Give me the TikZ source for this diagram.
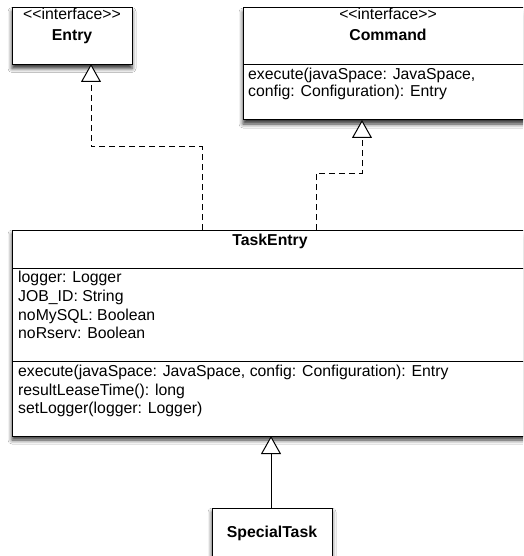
\documentclass[tikz,border=0pt]{standalone}
\usepackage{fontspec}
\setmainfont{Liberation Sans}
\usetikzlibrary{arrows.meta,shadows.blur}
\tikzset{
  umlbox/.style={draw=black, line width=1pt, fill=white, inner sep=0pt,
    blur shadow={shadow xshift=0pt, shadow yshift=-4pt, shadow blur radius=4pt, shadow opacity=80}},
  sep/.style={line width=0.8pt},
  txt/.style={inner sep=0pt, anchor=base west, font=\fontsize{15.8}{18}\selectfont},
  ctxt/.style={inner sep=0pt, anchor=base, font=\fontsize{15.8}{18}\selectfont},
  btxt/.style={inner sep=0pt, anchor=base, font=\fontsize{15.8}{18}\selectfont\bfseries},
  realize/.style={line width=1pt, dash pattern=on 6pt off 4pt,
    -{Triangle[open, length=18pt, width=20pt, line width=1pt, fill=white]}},
  generalize/.style={line width=1pt,
    -{Triangle[open, length=18pt, width=20pt, line width=1pt, fill=white]}}
}
\newcommand{\stereo}{\hbox{<}\hbox{<}interface\hbox{>}\hbox{>}}
\begin{document}
\begin{tikzpicture}[x=1pt,y=-1pt]
\useasboundingbox (0,0) rectangle (523,556);
\clip (0,0) rectangle (523,556);
\fill[white] (0,0) rectangle (523,556);

% Entry
\node[umlbox, minimum width=120pt, minimum height=57pt] (entry) at (72,36) {};
\node[ctxt] (entrystereo) at (72,20) {\stereo};
\node[btxt] (entryname) at (72,41) {Entry};

% Command
\node[umlbox, minimum width=290pt, minimum height=112pt] (command) at (388,64) {};
\draw[sep] (243,64) -- (533,64);
\node[ctxt] (cmdstereo) at (388,20) {\stereo};
\node[btxt] (cmdname) at (388,41) {Command};
\node[txt] (cmdop1) at (248,80) {execute(javaSpace: JavaSpace,};
\node[txt] (cmdop2) at (248,97) {config: Configuration): Entry};

% TaskEntry
\node[umlbox, minimum width=516pt, minimum height=206pt] (task) at (270,333) {};
\draw[sep] (12,268) -- (528,268);
\draw[sep] (12,361) -- (528,361);
\node[btxt] (taskname) at (270,245) {TaskEntry};
\node[txt] (a1) at (18,282) {logger: Logger};
\node[txt] (a2) at (18,301) {JOB\_ID: String};
\node[txt] (a3) at (18,320) {noMySQL: Boolean};
\node[txt] (a4) at (18,338) {noRserv: Boolean};
\node[txt] (m1) at (18,376) {execute(javaSpace: JavaSpace, config: Configuration): Entry};
\node[txt] (m2) at (18,395) {resultLeaseTime(): long};
\node[txt] (m3) at (18,413) {setLogger(logger: Logger)};

% SpecialTask
\node[umlbox, minimum width=120pt, minimum height=60pt] (special) at (272,538) {};
\node[btxt] (specialname) at (272,537) {SpecialTask};

% connectors
\coordinate (e1) at (202,230);
\coordinate (e2) at (91,64);
\draw[realize] (e1) -- (202,147) -| (e2);
\coordinate (c1) at (316,230);
\coordinate (c2) at (362,120);
\draw[realize] (c1) -- (316,173) -| (c2);
\coordinate (s1) at (271,508);
\coordinate (s2) at (271,436);
\draw[generalize] (s1) -- (s2);
\end{tikzpicture}
\end{document}
